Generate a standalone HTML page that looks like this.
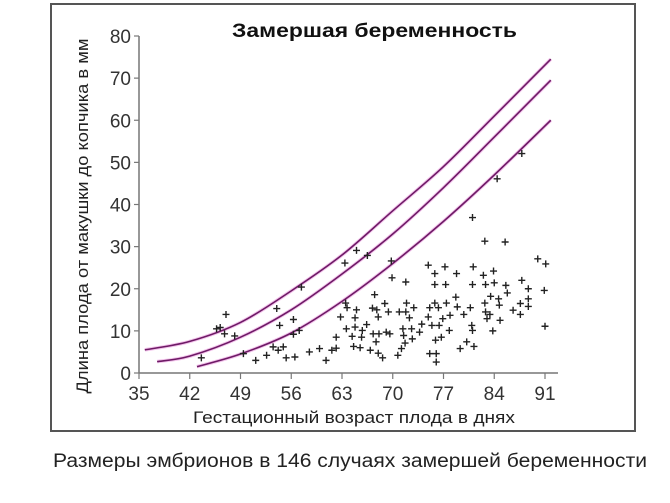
<!DOCTYPE html>
<html><head><meta charset="utf-8"><style>
html,body{margin:0;padding:0;background:#fff;}
svg{display:block;font-family:"Liberation Sans",Arial,sans-serif;}
</style></head><body>
<svg id="chart" width="670" height="503" viewBox="0 0 670 503">
<rect x="51" y="4" width="584" height="427" fill="none" stroke="#555" stroke-width="2"/>
<text x="232" y="37" font-size="19" font-weight="bold" fill="#111" textLength="285" lengthAdjust="spacingAndGlyphs">Замершая беременность</text>
<text transform="translate(88,216) rotate(-90)" text-anchor="middle" font-size="17" fill="#222" textLength="355" lengthAdjust="spacingAndGlyphs">Длина плода от макушки до копчика в мм</text>
<text x="193" y="423" font-size="17" fill="#222" textLength="322" lengthAdjust="spacingAndGlyphs">Гестационный возраст плода в днях</text>
<text x="53" y="467" font-size="19" fill="#222" textLength="594" lengthAdjust="spacingAndGlyphs">Размеры эмбрионов в 146 случаях замершей беременности</text>
<g id="axes"></g><g id="curves"></g><g id="points"></g>
</svg>
<script>
const xTicks=[35,42,49,56,63,70,77,84,91];
const yTicks=[0,10,20,30,40,50,60,70,80];
const upperDays=[35.8,42,49,56,63,70,77,84,91.8];
const upperVals=[5.5,7.5,12,19.5,28,38.5,49,61,74.5];
const midDays=[37.5,42,49,56,63,70,77,84,91.8];
const midVals=[2.7,4,8.5,15,23.5,33,44,56,69.5];
const lowerDays=[43,49,56,63,70,77,84,91.8];
const lowerVals=[1.5,4.5,9.5,17,26,36,47,60];
const ptDays=[43.6,45.7,46.2,47,46.8,48.2,49.4,51.1,52.6,53.5,54.2,54,54.4,54.9,55.3,56.3,56.3,56.5,57.1,57.4,58.5,59.9,60.8,61.6,62.2,62.2,62.8,63.4,63.5,63.6,63.7,64.4,64.6,64.8,64.8,65,65,65.5,65.7,65.8,66.4,66.5,66.9,67.2,67.3,67.5,67.7,68,68,67.8,68.1,68.6,68.9,69.1,69.4,69.6,69.8,69.9,70.7,70.9,71.2,71.4,71.5,71.7,71.8,71.8,71.9,72.3,72.6,72.7,72.9,73.7,74,74.9,74.9,75.1,75.1,75.4,75.8,75.8,75.8,75.9,76,76,76.3,76.4,76.7,76.9,77.2,77.3,77.4,77.8,77.9,78.8,78.7,78.9,79.3,79.8,80.2,80.7,80.9,81,81.1,81,81.2,81,82.5,82.7,82.8,82.7,82.8,83,83.4,83.5,83.8,83.9,84,84.4,84.6,84.7,84.8,85.5,85.6,85.8,86.6,87.8,87.8,87.6,87.6,88.7,88.7,88.7,90,90.9,91.1,91];
const ptVals=[3.6,10.5,10.8,13.9,9.3,8.8,4.6,3,4.2,6.2,5.4,15.3,11.3,6.2,3.6,12.7,9.2,3.8,10.1,20.4,5,5.8,3,5.4,5.9,8.5,13.3,26.1,16.6,10.5,15.5,8.7,6.3,10.9,13.1,15,29.1,6,8.5,10.1,11.5,27.9,5.4,15.4,9.3,18.6,7.4,13.3,4.7,15,9.3,3.6,16.5,9.7,14.5,9.3,26.6,22.6,4.2,14.5,5.8,10.5,8.9,7.1,21.6,14.5,16.6,13.1,10.5,8.1,15.5,9.7,11.6,25.6,13.3,15.5,4.6,11.3,23.6,21,16.6,7.8,4.6,2.6,15.5,11.3,8.5,12.9,25.2,21,16.6,10.1,13.7,23.6,18,15.7,5.8,13.9,7.4,15.5,11.3,36.9,25.2,21,6.3,10.1,23.2,31.3,21,16.6,14.5,12.9,13.9,18.2,10,24.2,21.4,46.1,17.6,16.1,12.5,31.1,20.8,19,14.9,52.1,22,13.9,16.5,20,17.6,15.8,27.1,19.6,25.9,11.1];
const NS='http://www.w3.org/2000/svg';
const X=d=>139+(d-35)*(406/56);
const Y=v=>373-v*(337/80);
function mk(tag,attrs,parent){const e=document.createElementNS(NS,tag);for(const k in attrs)e.setAttribute(k,attrs[k]);parent.appendChild(e);return e;}
const axes=document.getElementById('axes');
let l=mk('line',{x1:139,y1:Y(80),x2:139,y2:373,stroke:'#777','stroke-width':1.5},axes);


l=mk('line',{x1:139,y1:373,x2:558,y2:373,stroke:'#777','stroke-width':1.5},axes);


yTicks.forEach(v=>{
 const t=mk('line',{x1:134,y1:Y(v),x2:139,y2:Y(v),stroke:'#777','stroke-width':1.2},axes);
 
 
 const tx=mk('text',{x:131,y:Y(v)+7,'text-anchor':'end','font-size':19,fill:'#333'},axes);
 tx.textContent=v;
 
 
});
xTicks.forEach(d=>{
 const t=mk('line',{x1:X(d),y1:373,x2:X(d),y2:379,stroke:'#777','stroke-width':1.2},axes);
 
 
 const tx=mk('text',{x:X(d),y:400,'text-anchor':'middle','font-size':19,fill:'#333'},axes);
 tx.textContent=d;
 
 
});
function smooth(ds,vs){
 const p=ds.map((d,i)=>[X(d),Y(vs[i])]);
 let s='M'+p[0][0]+','+p[0][1];
 for(let i=0;i<p.length-1;i++){
  const p0=p[i-1]||p[i],p1=p[i],p2=p[i+1],p3=p[i+2]||p2;
  const c1=[p1[0]+(p2[0]-p0[0])/6,p1[1]+(p2[1]-p0[1])/6];
  const c2=[p2[0]-(p3[0]-p1[0])/6,p2[1]-(p3[1]-p1[1])/6];
  s+=' C'+c1[0]+','+c1[1]+' '+c2[0]+','+c2[1]+' '+p2[0]+','+p2[1];
 }
 return s;
}
const cg=document.getElementById('curves');
[[upperDays,upperVals,'upper-curve'],[midDays,midVals,'middle-curve'],[lowerDays,lowerVals,'lower-curve']].forEach(c=>{
 const d=smooth(c[0],c[1]);
 mk('path',{d:d,fill:'none',stroke:'#f3c4ec','stroke-width':3.5},cg);
 const p=mk('path',{d:d,fill:'none',stroke:'#6e1a66','stroke-width':1.6},cg);
 
 
});
const pg=document.getElementById('points');
ptDays.forEach((d,i)=>{
 const x=X(d),y=Y(ptVals[i]);
 const p=mk('path',{d:`M${x-3.5},${y}H${x+3.5}M${x},${y-3.5}V${y+3.5}`,stroke:'#222','stroke-width':1.4},pg);
 
 
});
</script>
</body></html>
